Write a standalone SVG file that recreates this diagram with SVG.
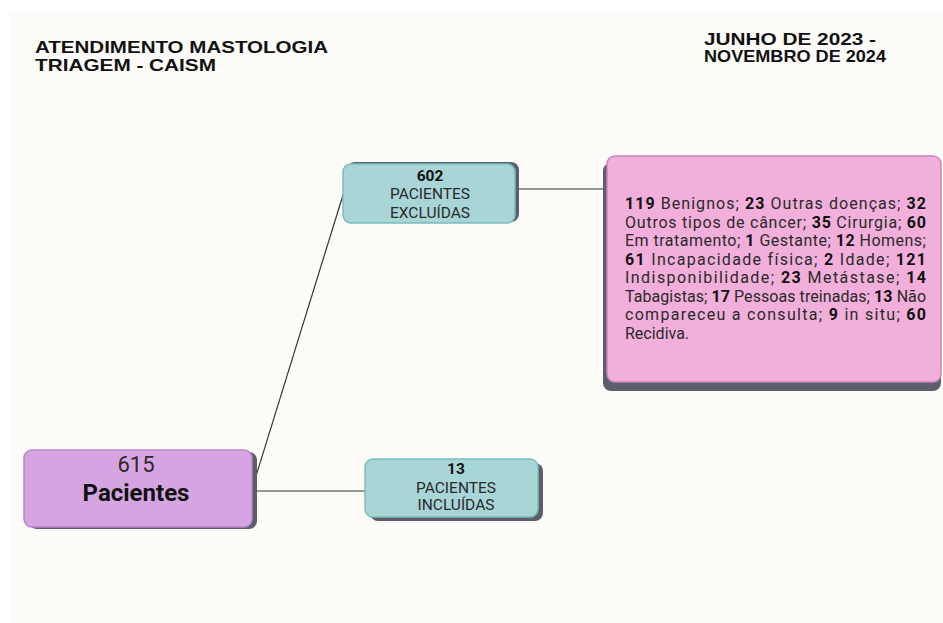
<svg xmlns="http://www.w3.org/2000/svg" width="943" height="623" viewBox="0 0 943 623">
<style>
.title{font-family:"Liberation Sans",Arial,sans-serif;font-weight:bold;font-size:16.5px;fill:#111}
.lbl{font-family:Roboto,"Liberation Sans",sans-serif;font-size:15.5px;fill:#2a2a2a;text-anchor:middle}
.b{font-weight:bold;fill:#111}
.body{font-family:Roboto,"Liberation Sans",sans-serif;font-size:16px;fill:#2a2a2a}
.shadow{fill:#5d5e6b}
.teal{fill:#a8d5d6;stroke:#7cbcbf;stroke-width:1.5}
.conn{stroke:#333;stroke-width:1.2;fill:none}
</style>
<rect x="0" y="0" width="943" height="623" fill="#ffffff"/>
<rect x="10" y="13" width="933" height="610" fill="#fdfcf9"/>
<text class="title" x="35" y="53" textLength="293" lengthAdjust="spacingAndGlyphs">ATENDIMENTO MASTOLOGIA</text>
<text class="title" x="35" y="71" textLength="181" lengthAdjust="spacingAndGlyphs">TRIAGEM - CAISM</text>
<text class="title" x="704" y="45" textLength="172" lengthAdjust="spacingAndGlyphs">JUNHO DE 2023 -</text>
<text class="title" x="704" y="62" textLength="182" lengthAdjust="spacingAndGlyphs">NOVEMBRO DE 2024</text>
<g id="connectors">
<line class="conn" x1="252" y1="489" x2="343" y2="195"/>
<line class="conn" x1="255" y1="491" x2="366" y2="491"/>
<line class="conn" x1="517" y1="189" x2="606" y2="189"/>
</g>
<g id="node-615">
<rect class="shadow" x="29" y="452" width="228" height="77" rx="8"/>
<rect x="24" y="450" width="228" height="77" rx="8" fill="#d6a5e1" stroke="#b985cb" stroke-width="1.5"/>
<text x="136" y="472" font-family="Roboto,'Liberation Sans',sans-serif" font-size="22" fill="#2a2a2a" text-anchor="middle">615</text>
<text x="136" y="501" font-family="Roboto,'Liberation Sans',sans-serif" font-size="24" font-weight="bold" fill="#111" text-anchor="middle">Pacientes</text>
</g>
<g id="node-602">
<rect class="shadow" x="347" y="162" width="172" height="60" rx="8"/>
<rect class="teal" x="343" y="164" width="172" height="59" rx="8"/>
<text class="lbl b" x="430" y="181">602</text>
<text class="lbl" x="430" y="199">PACIENTES</text>
<text class="lbl" x="430" y="218">EXCLUÍDAS</text>
</g>
<g id="node-13">
<rect class="shadow" x="370" y="463" width="173" height="58" rx="8"/>
<rect class="teal" x="365" y="459" width="173" height="58" rx="8"/>
<text class="lbl b" x="456" y="474">13</text>
<text class="lbl" x="456" y="493">PACIENTES</text>
<text class="lbl" x="456" y="510">INCLUÍDAS</text>
</g>
<g id="node-details">
<rect class="shadow" x="603" y="163" width="338" height="228" rx="8"/>
<rect x="607" y="156" width="334" height="226" rx="8" fill="#f2afdb" stroke="#c785c4" stroke-width="1.5"/>
<g class="body">
<text x="625" y="209" textLength="301"><tspan class="b">119</tspan> Benignos; <tspan class="b">23</tspan> Outras doenças; <tspan class="b">32</tspan></text>
<text x="625" y="227.5" textLength="301">Outros tipos de câncer; <tspan class="b">35</tspan> Cirurgia; <tspan class="b">60</tspan></text>
<text x="625" y="246" textLength="301">Em tratamento; <tspan class="b">1</tspan> Gestante; <tspan class="b">12</tspan> Homens;</text>
<text x="625" y="264.5" textLength="301"><tspan class="b">61</tspan> Incapacidade física;  <tspan class="b">2</tspan> Idade; <tspan class="b">121</tspan></text>
<text x="625" y="283" textLength="301">Indisponibilidade; <tspan class="b">23</tspan> Metástase; <tspan class="b">14</tspan></text>
<text x="625" y="301.5" textLength="301">Tabagistas; <tspan class="b">17</tspan> Pessoas treinadas; <tspan class="b">13</tspan> Não</text>
<text x="625" y="320" textLength="301">compareceu a consulta; <tspan class="b">9</tspan> in situ; <tspan class="b">60</tspan></text>
<text x="625" y="338.5">Recidiva.</text>
</g>
</g>
</svg>
